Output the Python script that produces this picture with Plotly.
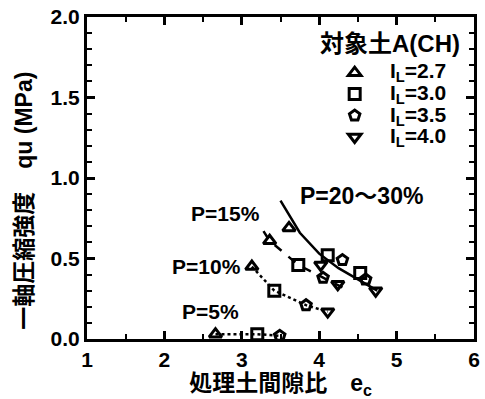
import plotly.graph_objects as go

# ---- data ----
tri_x = [2.66, 3.13, 3.36, 3.61]
tri_y = [0.03, 0.45, 0.61, 0.69]
sq_x = [3.20, 3.42, 3.73, 4.11, 4.53]
sq_y = [0.03, 0.30, 0.46, 0.52, 0.41]
pen_x = [3.49, 3.83, 4.05, 4.30, 4.60]
pen_y = [0.02, 0.21, 0.38, 0.49, 0.37]
inv_x = [4.11, 4.02, 4.24, 4.73]
inv_y = [0.17, 0.46, 0.34, 0.30]

p5_x = [2.66, 3.20, 3.49]
p5_y = [0.03, 0.03, 0.02]
p10_x = [3.13, 3.42, 3.83, 4.11]
p10_y = [0.45, 0.30, 0.21, 0.17]
p15_x = [3.28, 3.36, 3.73, 4.05, 4.30]
p15_y = [0.67, 0.61, 0.46, 0.38, 0.32]
p20_x = [3.50, 3.75, 4.00, 4.25, 4.50, 4.75]
p20_y = [0.86, 0.66, 0.53, 0.44, 0.37, 0.30]

legend_title = "対象土A(CH)"
legend_names = ["I<sub>L</sub>=2.7", "I<sub>L</sub>=3.0", "I<sub>L</sub>=3.5", "I<sub>L</sub>=4.0"]
p_labels = ["P=5%", "P=10%", "P=15%", "P=20～30%"]
label_pos = [(2.60, 0.17), (2.54, 0.45), (2.79, 0.78), (4.54, 0.89)]
x_title = "処理土間隙比　e<sub>c</sub>"
y_title = "一軸圧縮強度　qu (MPa)"

FONT = "Liberation Sans, Arial, Noto Sans CJK JP"
fig = go.Figure()

line_w = 2.5
for xs, ys, dash in [(p5_x, p5_y, "dot"), (p10_x, p10_y, "dot"),
                     (p15_x, p15_y, "dash"), (p20_x, p20_y, "solid")]:
    fig.add_trace(go.Scatter(x=xs, y=ys, mode="lines", showlegend=False,
                             line=dict(color="black", width=line_w, dash=dash)))

for xs, ys, sym, name in [(tri_x, tri_y, "triangle-up-open", legend_names[0]),
                          (sq_x, sq_y, "square-open", legend_names[1]),
                          (pen_x, pen_y, "pentagon-open", legend_names[2]),
                          (inv_x, inv_y, "triangle-down-open", legend_names[3])]:
    fig.add_trace(go.Scatter(x=xs, y=ys, mode="markers", name="\u00a0",
                             marker=dict(symbol=sym, size=11, color="black",
                                         line=dict(width=3, color="black"))))

for t, (lx, ly) in zip(p_labels, label_pos):
    fig.add_annotation(x=lx, y=ly, text=t, showarrow=False,
                       font=dict(family=FONT, size=23 if "～" in t else 21, color="black", weight="bold"))

# legend title and entry texts
fig.add_annotation(xref="paper", yref="paper", x=0.598, y=0.917, xanchor="left", yanchor="middle",
                   text=legend_title, showarrow=False,
                   font=dict(family=FONT, size=24, color="black", weight="bold"))
for i, nm in enumerate(legend_names):
    fig.add_annotation(xref="paper", yref="paper", x=0.777, y=0.829 - i * 0.0675,
                       xanchor="left", yanchor="middle", text=nm, showarrow=False,
                       font=dict(family=FONT, size=21, color="black", weight="bold"))

# y-axis title (placed as rotated text, as in the reference it sits below centre)
fig.add_annotation(xref="paper", yref="paper", x=-0.165, y=0.43, textangle=-90,
                   xanchor="center", yanchor="middle", text=y_title, showarrow=False,
                   font=dict(family=FONT, size=23, color="black", weight="bold"))

axis_common = dict(showline=True, linewidth=3, linecolor="black", mirror="ticks",
                   ticks="inside", ticklen=8, tickwidth=2.5, tickcolor="black",
                   showgrid=False, zeroline=False,
                   tickfont=dict(family=FONT, size=21, color="black", weight="bold"))

fig.update_xaxes(range=[1, 6], dtick=1, tick0=1,
                 minor=dict(dtick=0.5, ticklen=5, tickwidth=2, ticks="inside", tickcolor="black"),
                 title=dict(text=x_title, standoff=4,
                            font=dict(family=FONT, size=23, color="black", weight="bold")),
                 **axis_common)
fig.update_yaxes(range=[0, 2.0], dtick=0.5, tickformat=".1f",
                 minor=dict(dtick=0.1, ticklen=5, tickwidth=2, ticks="inside", tickcolor="black"),
                 **axis_common)

fig.update_layout(
    width=485, height=399,
    margin=dict(l=87, r=5, t=17, b=60),
    plot_bgcolor="white", paper_bgcolor="white",
    legend=dict(x=0.64, y=0.876, xanchor="left", yanchor="top",
                bgcolor="rgba(0,0,0,0)", borderwidth=0, tracegroupgap=0,
                font=dict(family=FONT, size=14.2, color="black")),
)

fig.write_html("out.html")
